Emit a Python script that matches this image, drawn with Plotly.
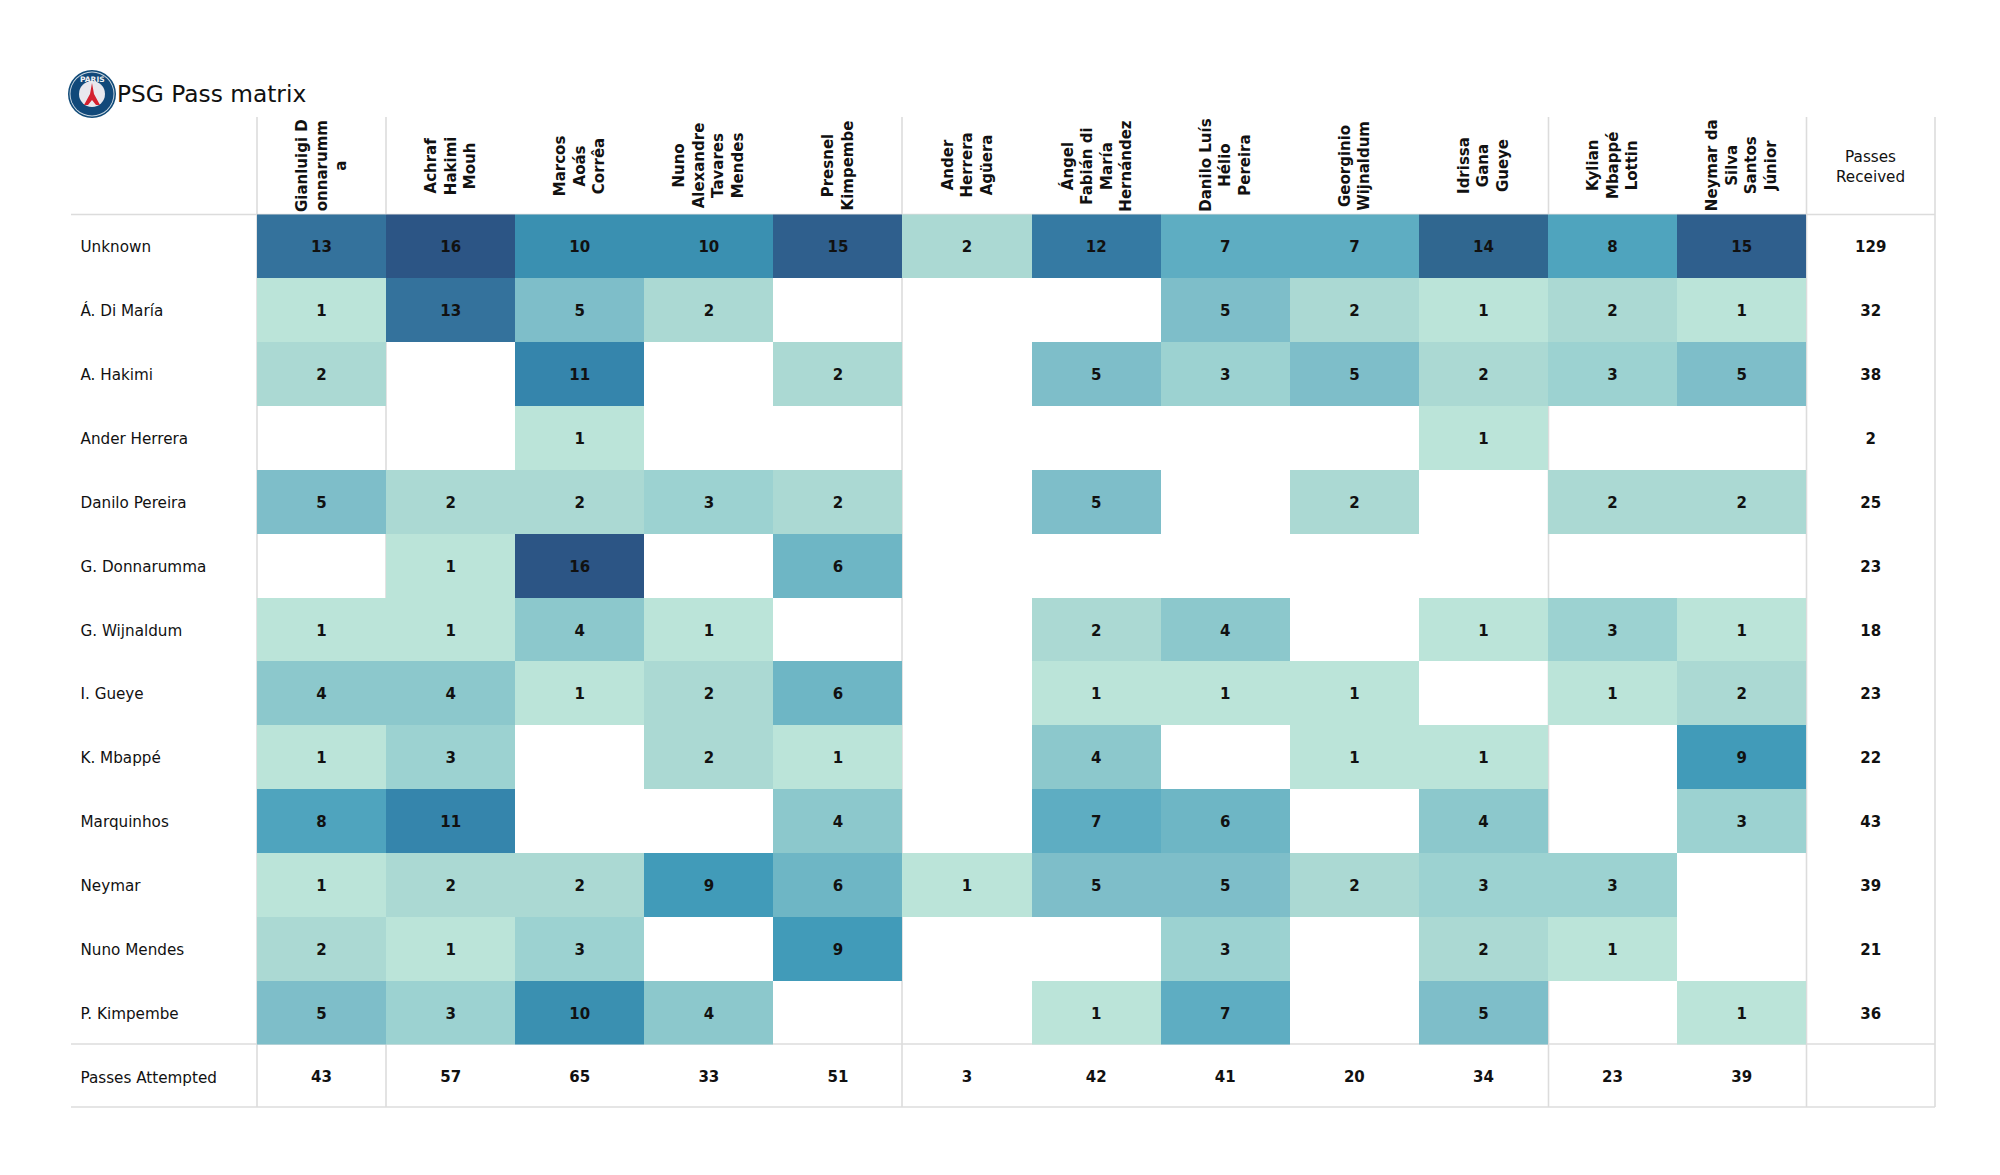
import plotly.graph_objects as go

receivers = ["Unknown", "Á. Di María", "A. Hakimi", "Ander Herrera", "Danilo Pereira", "G. Donnarumma",
             "G. Wijnaldum", "I. Gueye", "K. Mbappé", "Marquinhos", "Neymar", "Nuno Mendes", "P. Kimpembe"]
passers = ["Gianluigi D<br>onnarumm<br>a", "Achraf<br>Hakimi<br>Mouh", "Marcos<br>Aoás<br>Corrêa",
           "Nuno<br>Alexandre<br>Tavares<br>Mendes", "Presnel<br>Kimpembe", "Ander<br>Herrera<br>Agüera",
           "Ángel<br>Fabián di<br>María<br>Hernández", "Danilo Luís<br>Hélio<br>Pereira", "Georginio<br>Wijnaldum",
           "Idrissa<br>Gana<br>Gueye", "Kylian<br>Mbappé<br>Lottin", "Neymar da<br>Silva<br>Santos<br>Júnior"]
N = None
matrix = [
    [13, 16, 10, 10, 15, 2, 12, 7, 7, 14, 8, 15],
    [1, 13, 5, 2, N, N, N, 5, 2, 1, 2, 1],
    [2, N, 11, N, 2, N, 5, 3, 5, 2, 3, 5],
    [N, N, 1, N, N, N, N, N, N, 1, N, N],
    [5, 2, 2, 3, 2, N, 5, N, 2, N, 2, 2],
    [N, 1, 16, N, 6, N, N, N, N, N, N, N],
    [1, 1, 4, 1, N, N, 2, 4, N, 1, 3, 1],
    [4, 4, 1, 2, 6, N, 1, 1, 1, N, 1, 2],
    [1, 3, N, 2, 1, N, 4, N, 1, 1, N, 9],
    [8, 11, N, N, 4, N, 7, 6, N, 4, N, 3],
    [1, 2, 2, 9, 6, 1, 5, 5, 2, 3, 3, N],
    [2, 1, 3, N, 9, N, N, 3, N, 2, 1, N],
    [5, 3, 10, 4, N, N, 1, 7, N, 5, N, 1],
]
passes_received = [129, 32, 38, 2, 25, 23, 18, 23, 22, 43, 39, 21, 36]
passes_attempted = [43, 57, 65, 33, 51, 3, 42, 41, 20, 34, 23, 39]
value_colors = ["#bbe4d9", "#abd9d3", "#9cd2d1", "#8cc8cc", "#7ebec9", "#6eb6c5", "#5eadc2", "#4fa4be",
                "#419bb9", "#3a90b1", "#3585ac", "#357aa3", "#34729c", "#306790", "#2f5f8d", "#2c5585"]

# pixel geometry of the table; the axes span the whole 2000x1175 canvas
W, H = 2000, 1175
X0, CW = 257.0, 129.1
Y0, RH = 214.5, 63.85
LINE = "#dcdcdc"
INK = "#111111"
FONT = "DejaVu Sans"
TEXT_DROP = 0.035  # text sits a touch below each cell's centre

def xd(px):
    return (px - X0) / CW - 0.5

def yd(px):
    return (px - Y0) / RH - 0.5

colorscale = [[i / 15, c] for i, c in enumerate(value_colors)]
ncols, nrows = len(passers), len(receivers)

def text_trace(xs, ys, labels, position="middle center", bold=True, size=15):
    fig.add_trace(go.Scatter(
        x=xs, y=[v + TEXT_DROP for v in ys], mode="text",
        text=[f"<b>{t}</b>" if bold else str(t) for t in labels], textposition=position,
        textfont=dict(family=FONT, size=size, color=INK), hoverinfo="skip", showlegend=False,
    ))

fig = go.Figure()
fig.add_trace(go.Heatmap(
    z=matrix, x=list(range(ncols)), y=list(range(nrows)),
    colorscale=colorscale, zmin=1, zmax=16, showscale=False, hoverongaps=False, xgap=0, ygap=0,
))
cells = [(c, r, matrix[r][c]) for r in range(nrows) for c in range(ncols) if matrix[r][c] is not None]
text_trace([c[0] for c in cells], [c[1] for c in cells], [c[2] for c in cells])
# row labels
text_trace([xd(80.5)] * (nrows + 1), list(range(nrows + 1)), receivers + ["Passes Attempted"],
           position="middle right", bold=False, size=15.2)
# totals
text_trace([ncols] * nrows, list(range(nrows)), passes_received)
text_trace(list(range(ncols)), [nrows] * ncols, passes_attempted)

# grid lines sit under the heat cells
for px in [257, 386, 902, 1548.5, 1806.5, 1935]:
    fig.add_shape(type="line", x0=xd(px), x1=xd(px), y0=yd(117), y1=yd(1107),
                  line=dict(color=LINE, width=1.6), layer="below")
for py in [214.5, 1044, 1107]:
    fig.add_shape(type="line", x0=xd(71), x1=xd(1935), y0=yd(py), y1=yd(py),
                  line=dict(color=LINE, width=1.6), layer="below")

# column headers
annotations = []
for i, name in enumerate(passers):
    annotations.append(dict(x=i, y=yd(165.5), text=f"<b>{name}</b>", textangle=-90, showarrow=False,
                            align="center", font=dict(family=FONT, size=15, color=INK),
                            xref="x", yref="y"))
annotations.append(dict(x=ncols, y=yd(167), text="Passes<br>Received", showarrow=False, align="center",
                        font=dict(family=FONT, size=15.2, color=INK), xref="x", yref="y"))
annotations.append(dict(x=xd(115), y=yd(93.5), text="PSG Pass matrix", showarrow=False, xanchor="left",
                        font=dict(family=FONT, size=23.3, color=INK), xref="x", yref="y"))

# club crest
def crest_circle(r, color):
    fig.add_shape(type="circle", x0=xd(92 - r), x1=xd(92 + r), y0=yd(94 - r), y1=yd(94 + r),
                  fillcolor=color, line=dict(width=0), layer="above")

crest_circle(24, "#0f4a78")
crest_circle(22.5, "#c9d6e0")
crest_circle(21.5, "#11497a")
crest_circle(13, "#e8e8ee")
tower = [(92, 83), (94, 94), (100, 105), (96, 105), (92, 100), (88, 105), (84, 105), (90, 94)]
fig.add_shape(type="path", path="M " + " L ".join(f"{xd(a)},{yd(b)}" for a, b in tower) + " Z",
              fillcolor="#d3202f", line=dict(width=0), layer="above")
annotations.append(dict(x=xd(92), y=yd(79), text="<b>PARIS</b>", showarrow=False,
                        font=dict(family=FONT, size=7.5, color="#f2f2f2"), xref="x", yref="y"))

fig.update_layout(
    width=W, height=H, margin=dict(l=0, r=0, t=0, b=0), paper_bgcolor="white", plot_bgcolor="rgba(0,0,0,0)",
    showlegend=False, annotations=annotations, font=dict(family=FONT),
    xaxis=dict(range=[xd(0), xd(W)], visible=False, fixedrange=True),
    yaxis=dict(range=[yd(H), yd(0)], visible=False, fixedrange=True),
)
fig.write_html("out.html", config={"displayModeBar": False}, post_script="document.body.style.margin='0';")
